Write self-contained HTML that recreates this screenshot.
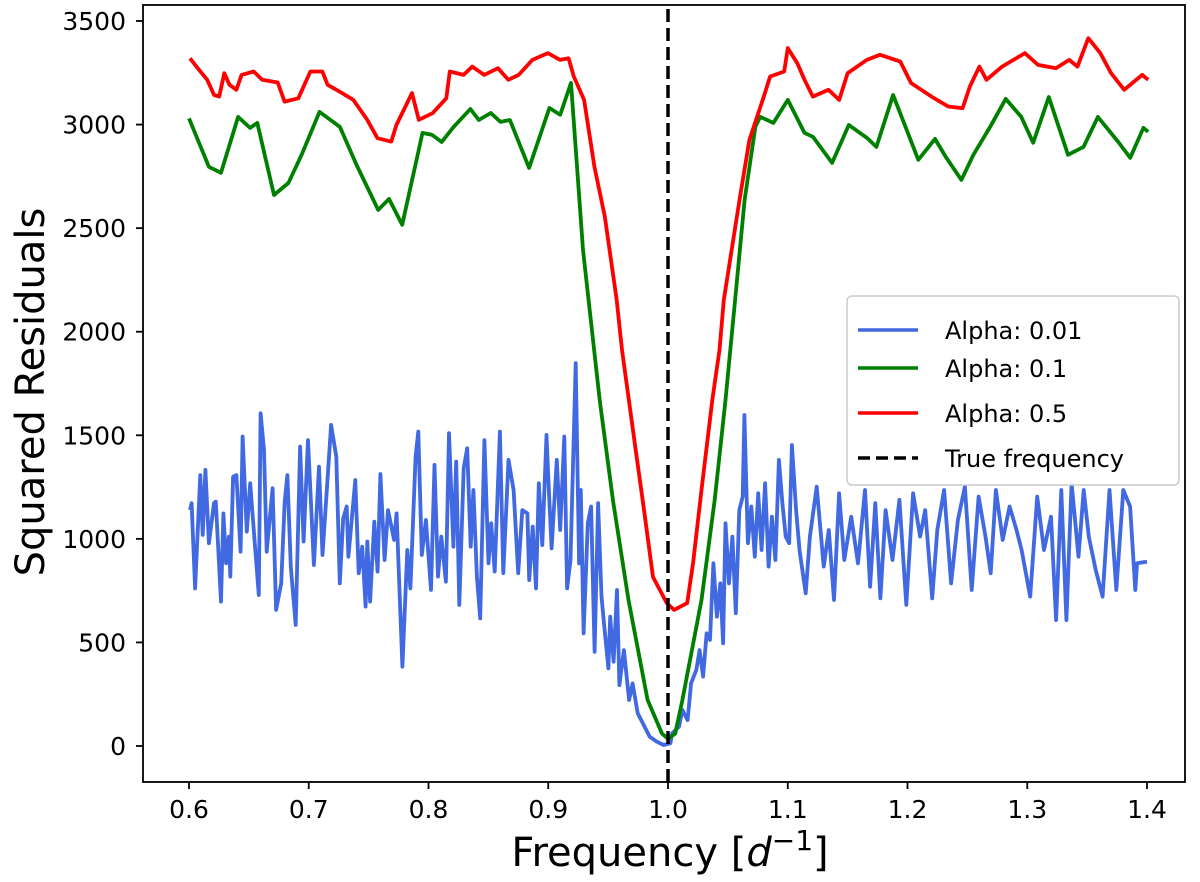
<!DOCTYPE html>
<html><head><meta charset="utf-8">
<style>
html,body{margin:0;padding:0;background:#fff;}
svg{display:block;font-family:"DejaVu Sans","Liberation Sans",sans-serif;}
</style></head>
<body>
<svg id="chart" width="1200" height="882" viewBox="0 0 1200 882" xmlns="http://www.w3.org/2000/svg">
  <rect x="0" y="0" width="1200" height="882" fill="#fff"/>
  <g id="marks"></g>
  <g id="axes"></g>
  <text x="670" y="866" text-anchor="middle" font-size="40" fill="#000">Frequency [<tspan font-style="italic">d</tspan><tspan dy="-16" font-size="28">−1</tspan><tspan dy="16">]</tspan></text>
  <text transform="translate(44,392) rotate(-90)" text-anchor="middle" font-size="40" fill="#000">Squared Residuals</text>
  <g id="legend">
    <rect x="847" y="296" width="332" height="189" rx="5" fill="#fff" fill-opacity="0.9" stroke="#ccc" stroke-width="1.5"/>
    <line x1="858" y1="330" x2="918" y2="330" stroke="#4169e1" stroke-width="3.5"/>
    <text x="945" y="339" font-size="24">Alpha: 0.01</text>
    <line x1="858" y1="368" x2="918" y2="368" stroke="#008000" stroke-width="3.5"/>
    <text x="945" y="377" font-size="24">Alpha: 0.1</text>
    <line x1="858" y1="413" x2="918" y2="413" stroke="#ff0000" stroke-width="3.5"/>
    <text x="945" y="422" font-size="24">Alpha: 0.5</text>
    <line x1="858" y1="458" x2="918" y2="458" stroke="#000" stroke-width="3.5" stroke-dasharray="12,6"/>
    <text x="945" y="467" font-size="24">True frequency</text>
  </g>
</svg>
<script>
const xTicks = [0.6,0.7,0.8,0.9,1.0,1.1,1.2,1.3,1.4];
const xTickLabels = ["0.6","0.7","0.8","0.9","1.0","1.1","1.2","1.3","1.4"];
const yTicks = [0,500,1000,1500,2000,2500,3000,3500];
const yTickLabels = ["0","500","1000","1500","2000","2500","3000","3500"];
const trueFrequency = 1.0;

const blueFreq = [0.6008,0.6022,0.6051,0.6094,0.6114,0.6137,0.6166,0.6209,0.6224,0.6267,0.6287,0.631,0.6333,0.6345,0.6368,0.6396,0.6431,0.6448,0.6483,0.6511,0.6554,0.6583,0.6598,0.6626,0.6649,0.6698,0.6727,0.677,0.6799,0.6822,0.685,0.6891,0.6928,0.6957,0.6994,0.7043,0.7086,0.7115,0.7158,0.7187,0.723,0.7259,0.7288,0.7317,0.7331,0.7389,0.7417,0.7446,0.7475,0.7489,0.7512,0.7547,0.7575,0.7598,0.7633,0.7662,0.7713,0.7734,0.7782,0.7823,0.7849,0.7892,0.7915,0.7944,0.7978,0.8021,0.805,0.8079,0.8107,0.8145,0.8171,0.8208,0.8231,0.8257,0.8294,0.8323,0.8352,0.8375,0.8404,0.8432,0.8467,0.8501,0.8524,0.8553,0.8596,0.8625,0.8668,0.8711,0.8749,0.8783,0.8826,0.8841,0.887,0.8898,0.8921,0.895,0.8985,0.8999,0.9028,0.9071,0.91,0.9134,0.9157,0.9186,0.9229,0.9258,0.9272,0.9295,0.933,0.9358,0.9387,0.9416,0.9445,0.9468,0.9502,0.9517,0.9546,0.9574,0.9594,0.9632,0.9675,0.9704,0.9747,0.979,0.9847,0.9905,0.9963,1.002,1.0034,1.0092,1.0121,1.0164,1.0193,1.0236,1.0264,1.0293,1.0322,1.0351,1.0379,1.0408,1.0437,1.046,1.048,1.0509,1.0538,1.0566,1.0595,1.0624,1.0638,1.0667,1.0696,1.0725,1.0753,1.0782,1.0811,1.084,1.0868,1.0897,1.0926,1.0955,1.0983,1.1012,1.1035,1.107,1.1098,1.115,1.1185,1.1242,1.13,1.1343,1.1386,1.1429,1.1472,1.153,1.1587,1.1645,1.1688,1.1731,1.1774,1.1817,1.1875,1.1932,1.199,1.2047,1.2105,1.2148,1.2206,1.2249,1.2306,1.2364,1.2421,1.2479,1.2536,1.2594,1.2651,1.2695,1.2738,1.2795,1.2853,1.291,1.2953,1.3025,1.3083,1.314,1.3198,1.3241,1.3284,1.3327,1.337,1.3428,1.3471,1.3514,1.3572,1.3629,1.3687,1.3744,1.3802,1.3859,1.3902,1.3917,1.4];
const blueValues = [1139,1172,761,1308,1019,1333,979,1172,1180,697,1123,882,1011,818,1300,1308,938,1494,1035,1268,946,729,1606,1429,938,1244,657,785,1180,1308,866,584,1445,987,1477,874,1349,922,1300,1550,1397,785,1099,1156,914,1284,834,962,673,987,697,1083,842,1313,898,1139,995,1123,383,946,761,1397,1518,922,1091,753,1357,818,1011,793,1510,962,1373,681,1341,1437,962,1236,818,616,1477,882,1075,842,1518,834,1381,1236,834,1139,1123,801,1059,761,1268,970,1502,1317,954,1381,1043,1494,761,898,1848,882,1236,544,1075,1156,455,1172,721,576,375,624,407,753,294,463,222,302,158,109,45,21,5,13,61,93,174,125,303,367,463,335,544,512,882,624,785,496,1075,785,1011,641,1139,1204,1598,979,1156,914,1220,946,1268,866,1107,898,1381,1172,1011,979,1453,1139,946,737,1011,1252,866,1043,705,1220,898,1107,882,1236,769,1172,713,1139,898,1188,681,1220,1011,1139,713,1043,1236,785,1091,1252,753,1204,1011,834,1236,995,1156,1043,946,721,1204,946,1107,608,1236,608,1268,914,1236,1011,850,721,1236,753,1236,1156,753,882,890];

const greenFreq = [0.6,0.6166,0.6267,0.641,0.651,0.657,0.671,0.683,0.694,0.709,0.726,0.74,0.758,0.767,0.778,0.795,0.803,0.811,0.821,0.835,0.842,0.852,0.86,0.868,0.884,0.901,0.91,0.919,0.929,0.943,0.954,0.967,0.983,0.995,1.0,1.006,1.012,1.028,1.039,1.048,1.056,1.064,1.073,1.077,1.088,1.1,1.114,1.121,1.137,1.151,1.166,1.174,1.188,1.209,1.223,1.232,1.245,1.255,1.269,1.282,1.295,1.305,1.318,1.334,1.347,1.359,1.376,1.386,1.397,1.401];
const greenValues = [3030,2796,2767,3037,2984,3008,2660,2718,2854,3061,2989,2805,2588,2641,2516,2960,2950,2916,2989,3075,3022,3056,3013,3022,2791,3080,3047,3201,2395,1670,1188,705,222,60,35,60,222,705,1188,1670,2153,2636,2990,3037,3008,3119,2960,2941,2815,2998,2936,2892,3143,2830,2931,2844,2733,2854,2989,3124,3037,2912,3133,2854,2892,3037,2916,2839,2984,2965];

const redFreq = [0.6008,0.6051,0.6152,0.621,0.6252,0.6295,0.6338,0.6396,0.6439,0.654,0.6611,0.6741,0.6798,0.6913,0.7014,0.7114,0.7157,0.7258,0.7373,0.7488,0.7574,0.7689,0.7732,0.7862,0.7919,0.8034,0.8149,0.8178,0.8293,0.8365,0.8465,0.858,0.8666,0.8753,0.8868,0.8997,0.9098,0.917,0.9213,0.9299,0.9385,0.9472,0.9572,0.9616,0.973,0.98,0.9875,0.999,1.005,1.016,1.021,1.028,1.037,1.043,1.0466,1.0597,1.068,1.08,1.0853,1.097,1.1,1.108,1.114,1.121,1.134,1.143,1.15,1.166,1.177,1.194,1.203,1.22,1.234,1.246,1.252,1.26,1.266,1.279,1.298,1.309,1.324,1.335,1.342,1.351,1.361,1.37,1.381,1.396,1.401];
const redValues = [3320,3288,3216,3143,3135,3248,3192,3168,3240,3256,3216,3203,3111,3127,3256,3256,3192,3159,3119,3023,2934,2918,2998,3152,3023,3055,3127,3256,3240,3280,3240,3272,3216,3240,3312,3345,3312,3320,3232,3119,2797,2556,2153,1912,1429,1140,816,690,657,690,884,1236,1670,1912,2153,2636,2926,3135,3232,3256,3369,3296,3216,3135,3168,3119,3248,3312,3337,3304,3200,3135,3087,3079,3183,3280,3216,3280,3345,3288,3272,3312,3280,3417,3345,3248,3168,3240,3216];

const PL=143, PR=1185, PT=5, PB=782;
function xScale(f){ return 189 + (f-0.6)*(1147-189)/0.8; }
function yScale(v){ return 746 - v*(746-21)/3500; }
const NS="http://www.w3.org/2000/svg";
const marks=document.getElementById('marks');
const axes=document.getElementById('axes');

function line(xs, ys, color, name){
  const p=document.createElementNS(NS,'polyline');
  p.setAttribute('points', xs.map((f,i)=>xScale(f).toFixed(1)+','+yScale(ys[i]).toFixed(1)).join(' '));
  p.setAttribute('fill','none');
  p.setAttribute('stroke',color);
  p.setAttribute('stroke-width','3.8');
  p.setAttribute('stroke-linejoin','round');
  
  
  marks.appendChild(p);
}
line(blueFreq, blueValues, '#4169e1', 'series-alpha-001');
line(greenFreq, greenValues, '#008000', 'series-alpha-01');
line(redFreq, redValues, '#ff0000', 'series-alpha-05');

const tl=document.createElementNS(NS,'line');
tl.setAttribute('x1',xScale(trueFrequency)); tl.setAttribute('x2',xScale(trueFrequency));
tl.setAttribute('y1',PT+4); tl.setAttribute('y2',PB);
tl.setAttribute('stroke','#000'); tl.setAttribute('stroke-width','3.5'); tl.setAttribute('stroke-dasharray','13,6');


marks.appendChild(tl);

const frame=document.createElementNS(NS,'rect');
frame.setAttribute('x',PL); frame.setAttribute('y',PT); frame.setAttribute('width',PR-PL); frame.setAttribute('height',PB-PT);
frame.setAttribute('fill','none'); frame.setAttribute('stroke','#000'); frame.setAttribute('stroke-width','1.8');


axes.appendChild(frame);

xTicks.forEach((t,i)=>{
  const x=xScale(t);
  const tk=document.createElementNS(NS,'line');
  tk.setAttribute('x1',x); tk.setAttribute('x2',x); tk.setAttribute('y1',PB); tk.setAttribute('y2',PB+7);
  tk.setAttribute('stroke','#000'); tk.setAttribute('stroke-width','1.8');
  
  
  axes.appendChild(tk);
  const tx=document.createElementNS(NS,'text');
  tx.setAttribute('x',x); tx.setAttribute('y',PB+36); tx.setAttribute('text-anchor','middle'); tx.setAttribute('font-size','25');
  tx.textContent=xTickLabels[i];
  
  
  axes.appendChild(tx);
});
yTicks.forEach((t,i)=>{
  const y=yScale(t);
  const tk=document.createElementNS(NS,'line');
  tk.setAttribute('x1',PL-7); tk.setAttribute('x2',PL); tk.setAttribute('y1',y); tk.setAttribute('y2',y);
  tk.setAttribute('stroke','#000'); tk.setAttribute('stroke-width','1.8');
  
  
  axes.appendChild(tk);
  const tx=document.createElementNS(NS,'text');
  tx.setAttribute('x',PL-17); tx.setAttribute('y',y+9); tx.setAttribute('text-anchor','end'); tx.setAttribute('font-size','25');
  tx.textContent=yTickLabels[i];
  
  
  axes.appendChild(tx);
});
</script>
</body></html>
